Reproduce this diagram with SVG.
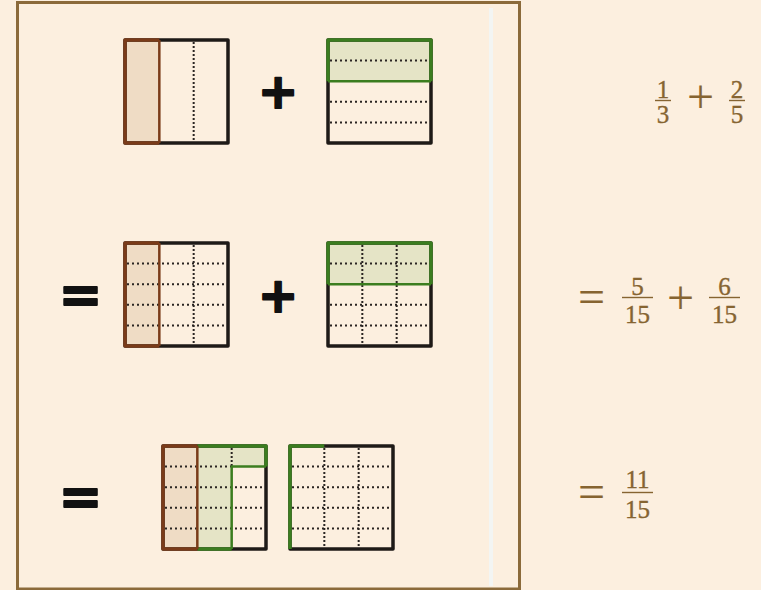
<svg xmlns="http://www.w3.org/2000/svg" width="761" height="590" viewBox="0 0 761 590">
<style>
.bg{fill:#fcefdf}
.frame{fill:none;stroke:#8b6a3a;stroke-width:3}
.strip{fill:#f3f5f3}
.fb{fill:#efdcc5}
.fg{fill:#e5e4c6}
.dot{stroke:#2a2522;stroke-width:2;stroke-dasharray:2 3;fill:none}
.vd{stroke-dasharray:2 2}
.out{fill:none;stroke:#1e1a17;stroke-width:3.5;stroke-linejoin:round}
.br{fill:none;stroke:#7a3b19;stroke-width:3.5;stroke-linejoin:round}
.gr{fill:none;stroke:#3b7d1f;stroke-width:3.5;stroke-linejoin:round}
.in{stroke-width:2.5}
.sym{font-family:"DejaVu Sans",sans-serif;font-weight:bold;fill:#111;stroke:#111;stroke-width:2;stroke-linejoin:round;text-anchor:middle}
.m{font-family:"Liberation Serif","Times New Roman",serif;fill:#866431;text-anchor:middle}
.n{font-size:25px;stroke:#866431;stroke-width:0.35}
.op{font-size:48px}
.bar{stroke:#866431;stroke-width:1.4}
</style>
<rect class="bg" x="0" y="0" width="761" height="590"/>
<rect class="strip" x="489" y="8" width="4" height="578"/>
<rect class="frame" x="17.5" y="2.5" width="502" height="586.5"/>

<g id="row1-left">
<rect class="fb" x="125" y="40" width="34.33" height="103"/>
<line class="dot vd" x1="193.67" y1="42" x2="193.67" y2="141"/>
<rect class="out" x="125" y="40" width="103" height="103"/>
<path class="br" d="M159.33,40 H125 V143 H159.33"/>
<line class="br in" x1="159.33" y1="40" x2="159.33" y2="143"/>
</g>
<text id="plus1" class="sym" x="278" y="108" font-size="48">+</text>
<g id="row1-right">
<rect class="fg" x="328" y="40" width="103" height="41.2"/>
<line class="dot" x1="330" y1="60.6" x2="429" y2="60.6"/>
<line class="dot" x1="330" y1="101.8" x2="429" y2="101.8"/>
<line class="dot" x1="330" y1="122.4" x2="429" y2="122.4"/>
<rect class="out" x="328" y="40" width="103" height="103"/>
<path class="gr" d="M328,81.2 V40 H431 V81.2"/>
<line class="gr in" x1="328" y1="81.2" x2="431" y2="81.2"/>
</g>

<text id="eq2" class="sym" x="80.5" y="312" font-size="52">=</text>
<g id="row2-left">
<rect class="fb" x="125" y="243" width="34.33" height="103"/>
<line class="dot" x1="127" y1="263.6" x2="226" y2="263.6"/>
<line class="dot" x1="127" y1="284.2" x2="226" y2="284.2"/>
<line class="dot" x1="127" y1="304.8" x2="226" y2="304.8"/>
<line class="dot" x1="127" y1="325.4" x2="226" y2="325.4"/>
<line class="dot vd" x1="193.67" y1="245" x2="193.67" y2="344"/>
<rect class="out" x="125" y="243" width="103" height="103"/>
<path class="br" d="M159.33,243 H125 V346 H159.33"/>
<line class="br in" x1="159.33" y1="243" x2="159.33" y2="346"/>
</g>
<text id="plus2" class="sym" x="278" y="312" font-size="48">+</text>
<g id="row2-right">
<rect class="fg" x="328" y="243" width="103" height="41.2"/>
<line class="dot" x1="330" y1="263.6" x2="429" y2="263.6"/>
<line class="dot" x1="330" y1="304.8" x2="429" y2="304.8"/>
<line class="dot" x1="330" y1="325.4" x2="429" y2="325.4"/>
<line class="dot vd" x1="362.33" y1="245" x2="362.33" y2="344"/>
<line class="dot vd" x1="396.67" y1="245" x2="396.67" y2="344"/>
<rect class="out" x="328" y="243" width="103" height="103"/>
<path class="gr" d="M328,284.2 V243 H431 V284.2"/>
<line class="gr in" x1="328" y1="284.2" x2="431" y2="284.2"/>
</g>

<text id="eq3" class="sym" x="80.5" y="514" font-size="52">=</text>
<g id="row3-left">
<rect class="fb" x="163" y="446" width="34.33" height="103"/>
<rect class="fg" x="197.33" y="446" width="34.34" height="103"/>
<rect class="fg" x="231.67" y="446" width="34.33" height="20.6"/>
<line class="dot" x1="165" y1="466.6" x2="231.67" y2="466.6"/>
<line class="dot" x1="165" y1="487.2" x2="264" y2="487.2"/>
<line class="dot" x1="165" y1="507.8" x2="264" y2="507.8"/>
<line class="dot" x1="165" y1="528.4" x2="264" y2="528.4"/>
<line class="dot vd" x1="231.67" y1="448" x2="231.67" y2="466.6"/>
<rect class="out" x="163" y="446" width="103" height="103"/>
<path class="gr" d="M197.33,549 H231.67 M197.33,446 H266 V466.6"/>
<path class="gr in" d="M266,466.6 H231.67 V549"/>
<path class="br" d="M197.33,446 H163 V549 H197.33"/>
<line class="br in" x1="197.33" y1="446" x2="197.33" y2="549"/>
</g>
<g id="row3-right">
<line class="dot" x1="292" y1="466.6" x2="391" y2="466.6"/>
<line class="dot" x1="292" y1="487.2" x2="391" y2="487.2"/>
<line class="dot" x1="292" y1="507.8" x2="391" y2="507.8"/>
<line class="dot" x1="292" y1="528.4" x2="391" y2="528.4"/>
<line class="dot vd" x1="324.33" y1="448" x2="324.33" y2="547"/>
<line class="dot vd" x1="358.67" y1="448" x2="358.67" y2="547"/>
<rect class="out" x="290" y="446" width="103" height="103"/>
<path class="gr" d="M324.33,446 H290 V549"/>
</g>

<g id="math1">
<text class="m n" x="663" y="98">1</text>
<line class="bar" x1="655" y1="100.5" x2="671" y2="100.5"/>
<text class="m n" x="663" y="123">3</text>
<text class="m op" x="700.5" y="113">+</text>
<text class="m n" x="737" y="98">2</text>
<line class="bar" x1="729" y1="100.5" x2="745" y2="100.5"/>
<text class="m n" x="737" y="123">5</text>
</g>
<g id="math2">
<text class="m op" x="591.5" y="312.5">=</text>
<text class="m n" x="637.5" y="295">5</text>
<line class="bar" x1="622" y1="297.5" x2="653" y2="297.5"/>
<text class="m n" x="637.5" y="323">15</text>
<text class="m op" x="680.5" y="314">+</text>
<text class="m n" x="724.5" y="295">6</text>
<line class="bar" x1="709" y1="297.5" x2="740" y2="297.5"/>
<text class="m n" x="724.5" y="323">15</text>
</g>
<g id="math3">
<text class="m op" x="591.5" y="507.5">=</text>
<text class="m n" x="637.5" y="488">11</text>
<line class="bar" x1="622" y1="492.5" x2="653" y2="492.5"/>
<text class="m n" x="637.5" y="518">15</text>
</g>
</svg>
